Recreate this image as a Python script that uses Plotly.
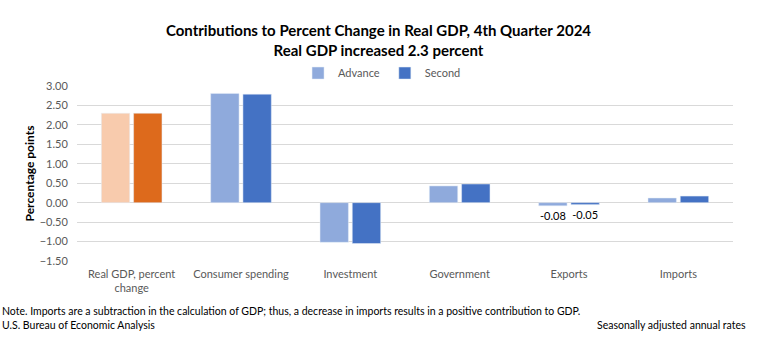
import plotly.graph_objects as go

categories = ["Real GDP, percent<br>change", "Consumer spending", "Investment", "Government", "Exports", "Imports"]
advance = [2.30, 2.81, -1.02, 0.43, -0.08, 0.12]
second = [2.30, 2.79, -1.05, 0.48, -0.05, 0.17]
labeled = ["Exports"]
y_ticks = [-1.5, -1.0, -0.5, 0.0, 0.5, 1.0, 1.5, 2.0, 2.5, 3.0]

FONT = "Lato"
adv_blue = "#8FAADC"
sec_blue = "#4472C4"
adv_orange = "#F8CBAD"
sec_orange = "#DD6A1C"

def lab(vals):
    return [f"{v:.2f}" if c in labeled else "" for c, v in zip(categories, vals)]

fig = go.Figure()
# Real GDP bars (orange, no legend)
fig.add_bar(x=categories[:1], y=advance[:1], marker_color=adv_orange, offsetgroup="a",
            showlegend=False, name="Advance")
fig.add_bar(x=categories[:1], y=second[:1], marker_color=sec_orange, offsetgroup="b",
            showlegend=False, name="Second")
# Component bars
fig.add_bar(x=categories[1:], y=advance[1:], marker_color=adv_blue, offsetgroup="a",
            name="Advance", text=lab(advance)[1:], textposition="outside",
            textfont=dict(size=11, color="#000000", family=FONT), cliponaxis=False)
fig.add_bar(x=categories[1:], y=second[1:], marker_color=sec_blue, offsetgroup="b",
            name="Second", text=lab(second)[1:], textposition="outside",
            textfont=dict(size=11, color="#000000", family=FONT), cliponaxis=False)

fig.update_layout(
    width=757, height=345,
    margin=dict(l=77, r=24, t=86, b=84),
    paper_bgcolor="white", plot_bgcolor="white",
    barmode="group", bargap=0.41, bargroupgap=0.12,
    font=dict(family=FONT, size=11, color="#595959"),
    title=dict(text="<b>Contributions to Percent Change in Real GDP, 4th Quarter 2024<br>Real GDP increased 2.3 percent</b>",
               x=0.5, xanchor="center", y=0.895, yanchor="top",
               font=dict(family=FONT, size=15, color="#000000")),
    legend=dict(orientation="h", x=0.465, xanchor="center", y=1.074, yanchor="middle",
                font=dict(family=FONT, size=11, color="#595959"),
                itemwidth=30, traceorder="normal"),
)
fig.update_xaxes(showgrid=False, showline=False, ticks="", ticklabelstandoff=5,
                 tickfont=dict(size=11, color="#595959"))
fig.update_yaxes(range=[-1.5, 3.0], tickvals=y_ticks, tickformat=".2f",
                 showgrid=True, gridcolor="#D9D9D9", gridwidth=1,
                 zeroline=True, zerolinecolor="#D9D9D9", zerolinewidth=1,
                 showline=False, ticks="outside", ticklen=6, tickcolor="rgba(0,0,0,0)",
                 title=dict(text="<b>Percentage points</b>", font=dict(family=FONT, size=12, color="#000000"), standoff=2),
                 tickfont=dict(size=11, color="#595959"))

fig.add_annotation(text="Note. Imports are a subtraction in the calculation of GDP; thus, a decrease in imports results in a positive contribution to GDP.",
                   xref="paper", yref="paper", x=-77/656, y=-(311-261)/175, xanchor="left", yanchor="middle",
                   showarrow=False, font=dict(family=FONT, size=10.5, color="#000000"))
fig.add_annotation(text="U.S. Bureau of Economic Analysis",
                   xref="paper", yref="paper", x=-77/656, y=-(325-261)/175, xanchor="left", yanchor="middle",
                   showarrow=False, font=dict(family=FONT, size=10.5, color="#000000"))
fig.add_annotation(text="Seasonally adjusted annual rates",
                   xref="paper", yref="paper", x=(748-77)/656, y=-(325-261)/175, xanchor="right", yanchor="middle",
                   showarrow=False, font=dict(family=FONT, size=10.5, color="#000000"))

fig.write_html("out.html")
